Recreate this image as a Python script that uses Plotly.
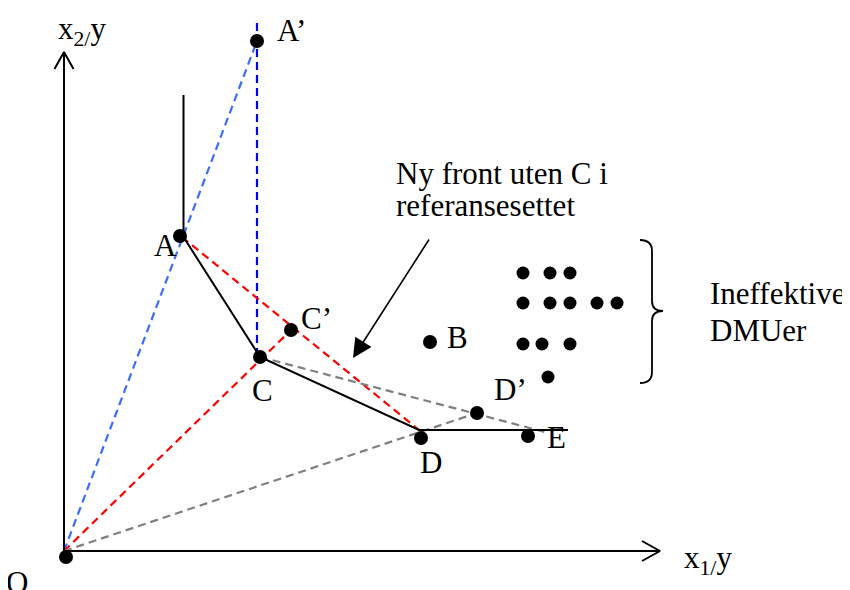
import plotly.graph_objects as go

# ---------------- data (diagram units: x1/y horizontally, x2/y vertically) ----------------
dmu_names = ["O", "A", "A’", "C", "C’", "B", "D", "D’", "E"]
dmu_x = [0.2, 11.6, 19.3, 19.6, 22.7, 36.6, 35.7, 41.3, 46.4]
dmu_y = [-0.6, 31.5, 51.0, 19.4, 22.1, 20.9, 11.3, 13.8, 11.5]

ineff_x = [45.9, 48.6, 50.6, 45.9, 48.6, 50.6, 53.3, 55.3, 45.9, 47.8, 50.6, 48.4]
ineff_y = [27.8, 27.8, 27.8, 24.8, 24.8, 24.8, 24.8, 24.8, 20.7, 20.7, 20.7, 17.4]

# efficient frontier (vertical part above A, through A, C, D and horizontal past E)
front_x = [11.95, 11.95, 19.6, 35.5, 50.4]
front_y = [45.6, 31.4, 19.4, 12.1, 12.1]

# projection rays / reference lines
blue_ray_x = [0.0, 19.3]
blue_ray_y = [0.0, 51.0]
blue_vert_x = [19.3, 19.3]
blue_vert_y = [52.8, 19.4]
red_ray_x = [0.0, 22.7]
red_ray_y = [0.0, 22.1]
red_front_x = [11.8, 35.5]
red_front_y = [31.4, 12.1]
gray_ray_x = [0.0, 41.3]
gray_ray_y = [0.0, 13.8]
gray_front_x = [19.6, 48.1]
gray_front_y = [19.4, 11.9]

# axes
x_axis_end = 59.6
y_axis_end = 49.9

# labels
label_text = ["A’", "A", "C’", "C", "B", "D’", "D", "E", "O"]
label_x = [21.1, 10.1, 23.5, 19.8, 39.3, 42.8, 36.7, 49.2, -4.7]
label_y = [52.1, 30.6, 23.3, 16.1, 21.4, 16.2, 8.9, 11.4, -3.1]
label_anchor = ["left", "center", "left", "center", "center", "left", "center", "center", "center"]

note_text = ["Ny front uten C i", "referansesettet", "Ineffektive", "DMUer"]
note_x = [33.0, 33.0, 64.4, 64.4]
note_y = [37.8, 34.6, 25.8, 22.1]

arrow_tail = (36.6, 31.3)
arrow_head = (28.9, 19.3)

brace_left, brace_stem, brace_tip = 57.6, 58.8, 59.9
brace_top, brace_mid, brace_bottom = 31.1, 24.0, 16.8

# ---------------- figure ----------------
FONT = "Liberation Serif"
FS = 31
fig = go.Figure()


def seg(xs, ys, color, dash="solid", width=2):
    fig.add_trace(go.Scatter(x=xs, y=ys, mode="lines",
                             line=dict(color=color, width=width, dash=dash),
                             hoverinfo="skip", showlegend=False))


DASH = "8px,5px"
seg(blue_ray_x, blue_ray_y, "#3c6cff", DASH, 2.2)
seg(blue_vert_x, blue_vert_y, "#0000ff", DASH, 2.2)
seg(red_ray_x, red_ray_y, "#ff0000", DASH, 2.2)
seg(red_front_x, red_front_y, "#ff0000", DASH, 2.2)
seg(gray_ray_x, gray_ray_y, "#808080", DASH, 2.2)
seg(gray_front_x, gray_front_y, "#808080", DASH, 2.2)
seg(front_x, front_y, "black", width=2)

# axes with open arrowheads
seg([0, x_axis_end], [0, 0], "black", width=2)
seg([0, 0], [0, y_axis_end], "black", width=2)
seg([x_axis_end - 1.8, x_axis_end, x_axis_end - 1.8], [1.0, 0, -1.0], "black", width=2)
seg([-0.95, 0, 0.95], [y_axis_end - 1.7, y_axis_end, y_axis_end - 1.7], "black", width=2)

fig.add_trace(go.Scatter(x=dmu_x, y=dmu_y, mode="markers", text=dmu_names,
                         marker=dict(color="black", size=14), hoverinfo="text",
                         showlegend=False))
fig.add_trace(go.Scatter(x=ineff_x, y=ineff_y, mode="markers",
                         marker=dict(color="black", size=13), hoverinfo="skip",
                         showlegend=False))

ann = []
for t, x, y, a in zip(label_text, label_x, label_y, label_anchor):
    ann.append(dict(x=x, y=y, text=t, showarrow=False, xanchor=a, yanchor="middle",
                    font=dict(family=FONT, size=FS, color="black")))
for t, x, y in zip(note_text, note_x, note_y):
    ann.append(dict(x=x, y=y, text=t, showarrow=False, xanchor="left", yanchor="middle",
                    font=dict(family=FONT, size=FS, color="black")))
ann.append(dict(x=-0.8, y=52.0, text="x<sub>2/</sub>y", showarrow=False, xanchor="left",
                yanchor="middle", font=dict(family=FONT, size=FS, color="black")))
ann.append(dict(x=61.8, y=-0.9, text="x<sub>1/</sub>y", showarrow=False, xanchor="left",
                yanchor="middle", font=dict(family=FONT, size=FS, color="black")))
ann.append(dict(x=arrow_head[0], y=arrow_head[1], ax=arrow_tail[0], ay=arrow_tail[1],
                axref="x", ayref="y", xref="x", yref="y", text="", showarrow=True,
                arrowhead=2, arrowsize=2.4, arrowwidth=1.6, arrowcolor="black", standoff=0))

brace_path = (
    f"M {brace_left},{brace_top} Q {brace_stem},{brace_top} {brace_stem},{brace_top - 1.1} "
    f"L {brace_stem},{brace_mid + 1.0} Q {brace_stem},{brace_mid} {brace_tip},{brace_mid} "
    f"Q {brace_stem},{brace_mid} {brace_stem},{brace_mid - 1.0} "
    f"L {brace_stem},{brace_bottom + 1.1} Q {brace_stem},{brace_bottom} {brace_left},{brace_bottom}"
)

# the page body adds an 8px offset, so the ranges are shifted to keep the origin in place
fig.update_layout(
    width=850, height=590, autosize=False,
    margin=dict(l=0, r=0, t=0, b=0),
    paper_bgcolor="white", plot_bgcolor="white",
    xaxis=dict(range=[-5.6, 79.4], visible=False, fixedrange=True),
    yaxis=dict(range=[-4.7, 54.3], visible=False, fixedrange=True),
    annotations=ann,
    shapes=[dict(type="path", path=brace_path, xref="x", yref="y",
                 line=dict(color="black", width=1.8))],
)

fig.write_html("out.html")
